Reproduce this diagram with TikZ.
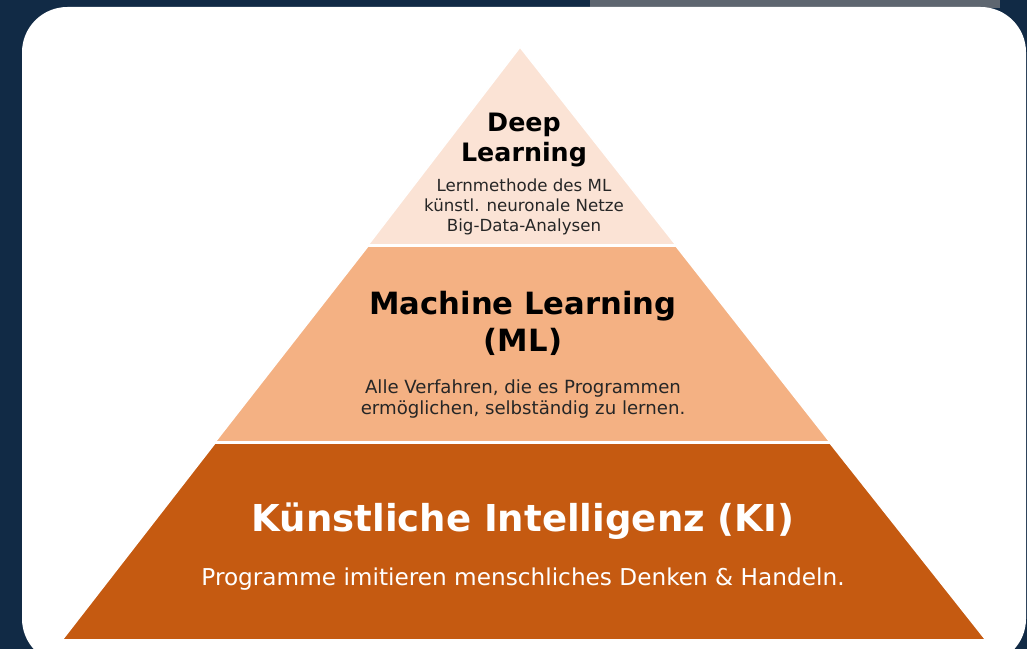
\documentclass[tikz,border=0pt]{standalone}
\usepackage{fontspec}
\setmainfont{DejaVu Sans}
\definecolor{bgnavy}{HTML}{112A45}
\definecolor{bggrey}{HTML}{5E6670}
\definecolor{tierA}{HTML}{FBE3D5}
\definecolor{tierB}{HTML}{F4B183}
\definecolor{tierC}{HTML}{C55A11}
\tikzset{
  tier/.style={draw=white, line width=1.2pt, line join=miter},
  title/.style={font=\bfseries, align=center, inner sep=0pt},
  sub/.style={align=center, inner sep=0pt},
}
\begin{document}
\begin{tikzpicture}[x=0.75pt,y=-0.75pt]
\useasboundingbox (0,0) rectangle (1027,649);
\fill[bgnavy] (0,0) rectangle (1027,649);
\fill[bggrey] (590,0) rectangle (1000,8);
\fill[white, rounded corners=34pt] (22,7) rectangle (1026,664);
% tiers
\fill[tierA, tier] (520,47) -- (676,245) -- (368,245) -- cycle;
\fill[tierB, tier] (368,246) -- (676,246) -- (830,442) -- (215,442) -- cycle;
\fill[tierC, tier] (215,443) -- (830,443) -- (986,640) -- (62,640) -- cycle;
% texts
\node[title, font=\fontsize{19}{22.5}\selectfont\bfseries] (dl) at (524,140) {Deep\\Learning};
\node[sub, font=\fontsize{12.5}{14.8}\selectfont, text=black!85] (dlsub) at (524,207) {Lernmethode des ML\\künstl. neuronale Netze\\Big-Data-Analysen};
\node[title, font=\fontsize{23}{27.8}\selectfont\bfseries] (ml) at (523,323) {Machine Learning\\(ML)};
\node[sub, font=\fontsize{13.6}{15.8}\selectfont, text=black!85] (mlsub) at (523,399) {Alle Verfahren, die es Programmen\\ermöglichen, selbständig zu lernen.};
\node[title, font=\fontsize{27.8}{30}\selectfont\bfseries, text=white] (ki) at (523,521) {Künstliche Intelligenz (KI)};
\node[sub, font=\fontsize{17.4}{20}\selectfont, text=white] (kisub) at (523,579) {Programme imitieren menschliches Denken \& Handeln.};
\end{tikzpicture}
\end{document}
